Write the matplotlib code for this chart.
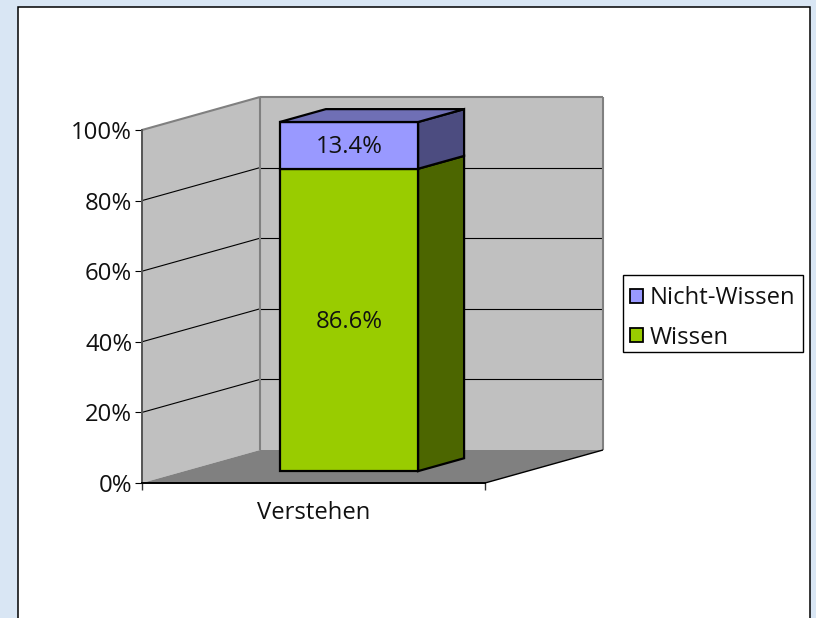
import matplotlib
matplotlib.use("Agg")
import matplotlib.pyplot as plt
from matplotlib.patches import Rectangle, Patch
from matplotlib.ticker import PercentFormatter

categories = ["Verstehen"]
series_names = ["Wissen", "Nicht-Wissen"]
wissen = [86.6]
nicht_wissen = [13.4]
y_ticks = [0, 20, 40, 60, 80, 100]

W, H = 816, 618
AX_L, AX_R, AX_B, AX_T = 142, 485, 483, 130
DX = 118 / (AX_R - AX_L)
DY = 33 / (AX_B - AX_T) * 100
D0, D1 = 0.36, 0.75
BAR_X0, BAR_X1 = 0.278, 0.681
BAR_SCALE = 0.989

WALL, FLOOR, EDGE = "#C0C0C0", "#808080", "#808080"
FRONTS = ["#99CC00", "#9999FF"]
SIDES = ["#4C6600", "#4C4C80"]
TOP = "#6F6FB5"
BG = "#D9E6F4"
FS = 17.2

plt.rcParams["font.family"] = ["Open Sans", "DejaVu Sans"]
fig = plt.figure(figsize=(W / 100, H / 100), dpi=100, facecolor=BG)
fig.add_artist(Rectangle((17.5 / W, -0.02), (810 - 17.5) / W, 1.02 - 6.5 / H,
                         transform=fig.transFigure, fc="white", ec="black", lw=1.1, zorder=0))

ax = fig.add_axes([AX_L / W, 1 - AX_B / H, (AX_R - AX_L) / W, (AX_B - AX_T) / H])
ax.patch.set_visible(False)
ax.set_xlim(0, 1)
ax.set_ylim(0, 100)


def proj(x, y, d):
    return x + d * DX, y + d * DY


def face(pts, **kw):
    xy = [proj(*p) for p in pts]
    ax.fill([p[0] for p in xy], [p[1] for p in xy], clip_on=False, **kw)


def seg(a, b, **kw):
    pa, pb = proj(*a), proj(*b)
    ax.plot([pa[0], pb[0]], [pa[1], pb[1]], clip_on=False, solid_capstyle="butt", **kw)


# walls and floor
face([(0, 0, 0), (0, 0, 1), (0, 100, 1), (0, 100, 0)], fc=WALL, ec="none", zorder=1)
face([(0, 0, 1), (1, 0, 1), (1, 100, 1), (0, 100, 1)], fc=WALL, ec="none", zorder=1)
face([(0, 0, 0), (1, 0, 0), (1, 0, 1), (0, 0, 1)], fc=FLOOR, ec="none", zorder=2)

# gridlines
for t in y_ticks[1:-1]:
    seg((0, t, 0), (0, t, 1), color="black", lw=0.8, zorder=3)
    seg((0, t, 1), (1, t, 1), color="black", lw=0.8, zorder=3)
# wall edges
seg((0, 100, 0), (0, 100, 1), color=EDGE, lw=1.5, zorder=3)
seg((0, 100, 1), (1, 100, 1), color=EDGE, lw=1.5, zorder=3)
seg((1, 100, 1), (1, 0, 1), color=EDGE, lw=1.5, zorder=3)
seg((0, 0, 1), (0, 100, 1), color=EDGE, lw=1.5, zorder=3)
seg((1, 0, 0), (1, 0, 1), color="black", lw=1.0, zorder=3)

# stacked bar
base = 0
for vals, front, side in zip([wissen, nicht_wissen], FRONTS, SIDES):
    v = vals[0]
    y0, y1 = base * BAR_SCALE, (base + v) * BAR_SCALE
    ek = dict(ec="black", lw=1.6, joinstyle="miter", zorder=5)
    face([(BAR_X1, y0, D0), (BAR_X1, y0, D1), (BAR_X1, y1, D1), (BAR_X1, y1, D0)], fc=side, **ek)
    face([(BAR_X0, y0, D0), (BAR_X1, y0, D0), (BAR_X1, y1, D0), (BAR_X0, y1, D0)], fc=front, **ek)
    cx, cy = proj((BAR_X0 + BAR_X1) / 2, (y0 + y1) / 2, D0)
    ax.annotate(f"{v:.1f}%", (cx, cy), xytext=(0, 0.8), textcoords="offset points", ha="center",
                va="center_baseline", fontsize=FS, color="#111111", zorder=7)
    base += v
top = base * BAR_SCALE
face([(BAR_X0, top, D0), (BAR_X1, top, D0), (BAR_X1, top, D1), (BAR_X0, top, D1)],
     fc=TOP, ec="black", lw=1.6, joinstyle="miter", zorder=5)

# axes
for s in ("top", "right"):
    ax.spines[s].set_visible(False)
ax.spines["left"].set_color("#555555")
ax.spines["left"].set_linewidth(1.4)
ax.spines["left"].set_zorder(4)
ax.spines["bottom"].set_color("black")
ax.spines["bottom"].set_linewidth(1.4)
ax.spines["bottom"].set_zorder(4)
ax.set_yticks(y_ticks)
ax.yaxis.set_major_formatter(PercentFormatter(decimals=0))
ax.tick_params(axis="y", length=5, width=0.8, pad=2, labelsize=FS, labelcolor="#111111")
ax.set_xticks([0, 1], minor=True)
ax.tick_params(axis="x", which="minor", length=5, width=1.0, color="#333333")
ax.set_xticks([0.5])
ax.set_xticklabels(categories)
ax.tick_params(axis="x", which="major", length=0, pad=13, labelsize=FS, labelcolor="#111111")

# legend: frame drawn separately so the rows can sit low in the box as in the reference
fig.add_artist(Rectangle((622.5 / W, 1 - 352 / H), (803 - 622.5) / W, (352 - 275) / H,
                         transform=fig.transFigure, fc="white", ec="black", lw=1.0, zorder=1))
handles = [Patch(fc=FRONTS[1], ec="black", lw=1.3), Patch(fc=FRONTS[0], ec="black", lw=1.3)]
lb = (622.5 / W, 1 - 356.5 / H, (803 - 622.5) / W, (352 - 275) / H)
leg = fig.legend(handles, [series_names[1], series_names[0]], loc="center",
                 bbox_to_anchor=lb, bbox_transform=fig.transFigure, fontsize=FS,
                 frameon=False, borderaxespad=0,
                 handlelength=0.52, handleheight=0.52, handletextpad=0.28,
                 labelspacing=0.65, borderpad=0.34, labelcolor="#111111")
leg.set_zorder(2)
fig.savefig("out.png", dpi=100, facecolor=fig.get_facecolor())
